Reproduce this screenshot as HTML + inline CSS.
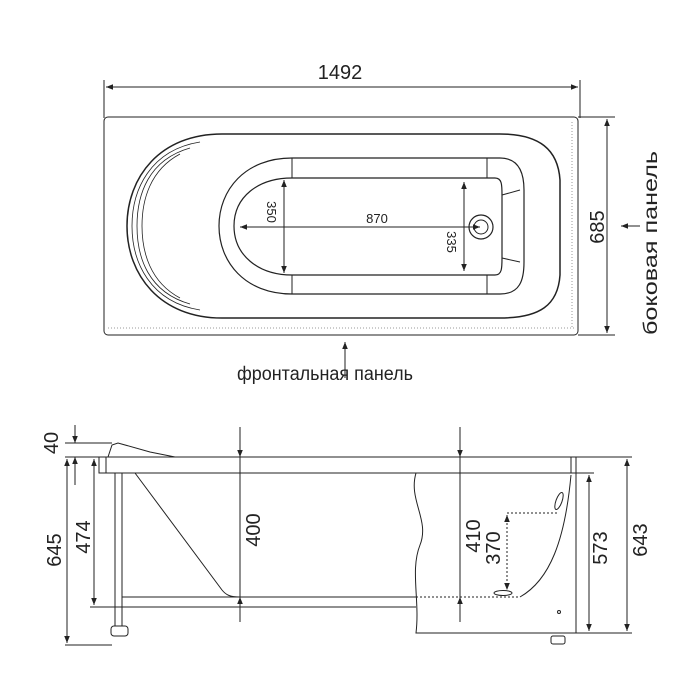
<!DOCTYPE html>
<html><head><meta charset="utf-8"><style>html,body{margin:0;padding:0;background:#fff}svg{display:block}</style></head><body>
<svg width="700" height="700" viewBox="0 0 700 700" xmlns="http://www.w3.org/2000/svg" font-family="Liberation Sans, sans-serif" fill="none" stroke="#222">
<defs>
<marker id="a" viewBox="0 0 10 10" refX="10" refY="5" markerWidth="7" markerHeight="7" orient="auto-start-reverse"><path d="M0,1 L10,5 L0,9 z" fill="#222" stroke="none"/></marker>
</defs>
<g stroke-width="1">
<line x1="106" y1="87" x2="578" y2="87" marker-start="url(#a)" marker-end="url(#a)"/>
<line x1="104" y1="80" x2="104" y2="118"/><line x1="580" y1="80" x2="580" y2="118"/>
<rect x="104" y="117" width="474" height="218" rx="4"/>
<line x1="108" y1="328" x2="574" y2="328" stroke-dasharray="1 2" stroke="#999"/>
<line x1="572" y1="122" x2="572" y2="328" stroke-dasharray="1 2" stroke="#999"/>
<line x1="578" y1="117" x2="615" y2="117"/><line x1="578" y1="335" x2="615" y2="335"/>
<line x1="607" y1="119" x2="607" y2="333" marker-start="url(#a)" marker-end="url(#a)"/>
<line x1="640" y1="226" x2="621" y2="226" marker-end="url(#a)"/>
<path d="M222,134 L500,134 C540,134 558,150 560,180 L560,275 C558,305 540,318 500,318 L222,318 C160,318 127,275 127,226 C127,177 160,134 222,134 z" stroke-width="1.5"/>
<path d="M200,142 C150,150 132,190 132,226 C132,262 150,302 200,310" stroke-width="0.8"/>
<path d="M190,148 C148,160 137,195 137,226 C137,257 148,292 190,304" stroke-width="0.8"/>
<path d="M180,154 C150,170 142,200 142,226 C142,252 150,282 180,298" stroke-width="0.8"/>
<path d="M292,158 L500,158 C520,158 524,175 524,190 L524,262 C524,280 520,294 500,294 L292,294 C245,294 219,262 219,226 C219,190 245,158 292,158 z" stroke-width="1.2"/>
<path d="M292,178 L495,178 C502,178 502,185 502,195 L502,258 C502,268 502,275 495,275 L292,275 C258,275 234,255 234,226 C234,197 258,178 292,178 z" stroke-width="1.2"/>
<line x1="292" y1="158" x2="292" y2="178"/><line x1="292" y1="275" x2="292" y2="294"/>
<line x1="487" y1="158" x2="487" y2="178"/><line x1="487" y1="275" x2="487" y2="294"/>
<line x1="502" y1="195" x2="520" y2="190"/><line x1="502" y1="258" x2="520" y2="262"/>
<circle cx="481" cy="227" r="12" stroke-width="1.2"/><circle cx="481" cy="227" r="7"/>
<line x1="240" y1="227" x2="480" y2="227" marker-start="url(#a)" marker-end="url(#a)"/>
<line x1="284" y1="180" x2="284" y2="273" marker-start="url(#a)" marker-end="url(#a)"/>
<line x1="464" y1="182" x2="464" y2="271" marker-start="url(#a)" marker-end="url(#a)"/>
<line x1="345" y1="378" x2="345" y2="342" marker-end="url(#a)"/>
</g>
<g fill="#222" stroke="none">
<text x="340" y="79" font-size="20" text-anchor="middle">1492</text>
<text x="377" y="223" font-size="13" text-anchor="middle">870</text>
<text transform="translate(267,212) rotate(90)" font-size="13" text-anchor="middle">350</text>
<text transform="translate(447,242) rotate(90)" font-size="13" text-anchor="middle">335</text>
<text transform="translate(604,227) rotate(-90)" font-size="20" text-anchor="middle">685</text>
<text transform="translate(657,243) rotate(-90)" font-size="19" text-anchor="middle" textLength="184" lengthAdjust="spacingAndGlyphs">боковая панель</text>
<text x="325" y="380" font-size="19" text-anchor="middle" textLength="176" lengthAdjust="spacingAndGlyphs">фронтальная панель</text>
</g>
<g stroke-width="1">
<rect x="99" y="457" width="477" height="16"/>
<line x1="106" y1="457" x2="106" y2="473"/><line x1="571" y1="457" x2="571" y2="473"/>
<path d="M108,457 L112,445 L118,443 L150,452 L175,457"/>
<path d="M115,473 L115,626 M122,473 L122,626"/>
<rect x="111" y="626" width="17" height="10" rx="3"/>
<rect x="551" y="636" width="14" height="8" rx="2"/>
<line x1="122" y1="597" x2="416" y2="597"/><line x1="122" y1="607" x2="416" y2="607"/>
<path d="M135,473 L222,590 C226,595 230,597 240,597"/>
<path d="M416,473 C408,500 430,520 420,545 C410,570 420,600 416,633 L576,633 L576,473"/>
<path d="M571,475 C565,540 550,580 520,597"/>
<line x1="416" y1="597" x2="520" y2="597" stroke-dasharray="2 2"/>
<ellipse cx="559" cy="501" rx="3" ry="9" transform="rotate(20 559 501)"/>
<ellipse cx="503" cy="593" rx="9" ry="2.5"/>
<circle cx="559" cy="612" r="1.5"/>
<path d="M507,513 L557,513" stroke-dasharray="2 2"/>
<line x1="507" y1="515" x2="507" y2="590" stroke-dasharray="2 2" marker-start="url(#a)" marker-end="url(#a)"/>
<line x1="240" y1="427" x2="240" y2="457" marker-end="url(#a)"/><line x1="240" y1="457" x2="240" y2="622"/>
<line x1="240" y1="622" x2="240" y2="597" marker-end="url(#a)"/>
<line x1="460" y1="427" x2="460" y2="457" marker-end="url(#a)"/><line x1="460" y1="457" x2="460" y2="622"/>
<line x1="460" y1="622" x2="460" y2="597" marker-end="url(#a)"/>
<line x1="576" y1="457" x2="632" y2="457"/><line x1="576" y1="473" x2="594" y2="473"/><line x1="576" y1="633" x2="632" y2="633"/>
<line x1="589" y1="475" x2="589" y2="631" marker-start="url(#a)" marker-end="url(#a)"/>
<line x1="627" y1="459" x2="627" y2="631" marker-start="url(#a)" marker-end="url(#a)"/>
<line x1="65" y1="443" x2="112" y2="443"/><line x1="65" y1="457" x2="99" y2="457"/>
<line x1="75" y1="425" x2="75" y2="443" marker-end="url(#a)"/>
<line x1="75" y1="485" x2="75" y2="457" marker-end="url(#a)"/>
<line x1="67" y1="459" x2="67" y2="643" marker-start="url(#a)" marker-end="url(#a)"/>
<line x1="65" y1="645" x2="112" y2="645"/>
<line x1="94" y1="459" x2="94" y2="605" marker-start="url(#a)" marker-end="url(#a)"/>
<line x1="90" y1="607" x2="122" y2="607"/>
</g>
<g fill="#222" stroke="none" font-size="20">
<text transform="translate(58,443) rotate(-90)" text-anchor="middle">40</text>
<text transform="translate(61,550) rotate(-90)" text-anchor="middle">645</text>
<text transform="translate(90,537) rotate(-90)" text-anchor="middle">474</text>
<text transform="translate(260,530) rotate(-90)" text-anchor="middle">400</text>
<text transform="translate(480,536) rotate(-90)" text-anchor="middle">410</text>
<text transform="translate(500,548) rotate(-90)" text-anchor="middle">370</text>
<text transform="translate(607,548) rotate(-90)" text-anchor="middle">573</text>
<text transform="translate(647,540) rotate(-90)" text-anchor="middle">643</text>
</g>
</svg>
</body></html>
